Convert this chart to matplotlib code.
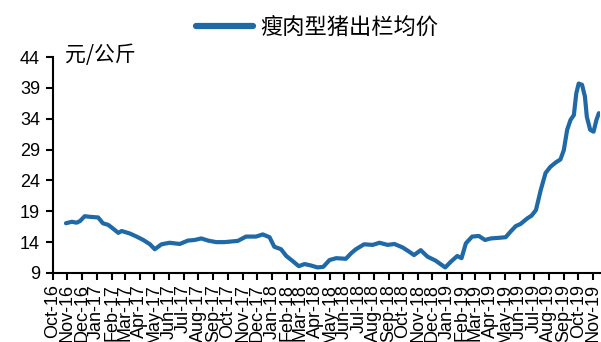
import matplotlib
matplotlib.use("Agg")
import matplotlib.pyplot as plt
import matplotlib.dates as mdates
import pandas as pd

# 瘦肉型猪出栏均价, 元/公斤
dates = [
    "2016-10-29", "2016-11-10", "2016-11-20", "2016-11-27", "2016-12-07", "2016-12-18",
    "2017-01-04", "2017-01-14", "2017-01-25", "2017-02-04", "2017-02-15", "2017-02-22",
    "2017-03-11", "2017-03-25", "2017-04-08", "2017-04-22", "2017-05-02", "2017-05-16",
    "2017-06-02", "2017-06-23", "2017-07-10", "2017-07-24", "2017-08-07", "2017-08-21",
    "2017-09-07", "2017-09-24", "2017-10-22", "2017-11-08", "2017-11-29", "2017-12-13",
    "2017-12-27", "2018-01-06", "2018-01-20", "2018-01-31", "2018-02-13", "2018-02-26",
    "2018-03-10", "2018-03-24", "2018-04-06", "2018-04-18", "2018-05-01", "2018-05-15",
    "2018-06-04", "2018-06-15", "2018-06-25", "2018-07-12", "2018-07-30", "2018-08-13",
    "2018-08-30", "2018-09-13", "2018-09-30", "2018-10-14", "2018-10-24", "2018-11-07",
    "2018-11-21", "2018-12-08", "2018-12-28", "2019-01-09", "2019-01-22", "2019-01-31",
    "2019-02-09", "2019-02-22", "2019-03-08", "2019-03-21", "2019-04-02", "2019-04-19",
    "2019-05-03", "2019-05-13", "2019-05-24", "2019-06-03", "2019-06-17", "2019-06-26",
    "2019-07-05", "2019-07-15", "2019-07-25", "2019-08-04", "2019-08-15", "2019-08-25",
    "2019-09-01", "2019-09-08", "2019-09-15", "2019-09-22", "2019-09-27", "2019-10-02",
    "2019-10-09", "2019-10-15", "2019-10-19", "2019-10-26", "2019-11-02", "2019-11-08",
    "2019-11-13",
]
price = [
    17.06, 17.3, 17.15, 17.4, 18.2, 18.1,
    18.0, 17.05, 16.8, 16.2, 15.5, 15.8,
    15.4, 14.9, 14.35, 13.65, 12.85, 13.65,
    13.9, 13.7, 14.25, 14.35, 14.6, 14.25,
    14.0, 14.0, 14.2, 14.9, 14.9, 15.25,
    14.8, 13.25, 12.85, 11.75, 10.95, 10.1,
    10.45, 10.2, 9.9, 10.0, 11.1, 11.4,
    11.3, 12.2, 12.85, 13.65, 13.55, 13.9,
    13.55, 13.7, 13.15, 12.45, 11.9, 12.7,
    11.65, 11.0, 9.9, 10.85, 11.75, 11.4,
    13.8, 14.9, 15.0, 14.35, 14.6, 14.7,
    14.8, 15.7, 16.6, 16.95, 17.85, 18.3,
    19.2, 22.45, 25.2, 26.2, 26.9, 27.4,
    28.9, 32.2, 33.8, 34.6, 38.1, 39.7,
    39.5, 37.6, 34.3, 32.2, 31.9, 33.8,
    34.9,
]
yticks = [9, 14, 19, 24, 29, 34, 39, 44]
series_name = "瘦肉型猪出栏均价"
unit = "元/公斤"

cjk = ["Noto Sans CJK SC", "DejaVu Sans"]
blue = "#1f69a6"

x = pd.to_datetime(dates)

fig = plt.figure(figsize=(6.01, 3.42), dpi=100)
ax = fig.add_axes([0.0874, 0.2018, 0.9106, 0.6315])

line, = ax.plot(x, price, color=blue, lw=3.0, solid_capstyle="round",
                solid_joinstyle="round", label=series_name)

ax.set_ylim(9, 44)
ax.set_yticks(yticks)
ax.set_xlim(pd.Timestamp("2016-10-01"), pd.Timestamp("2019-11-15"))
ax.xaxis.set_major_locator(mdates.MonthLocator())
ax.xaxis.set_major_formatter(mdates.DateFormatter("%b-%y"))

for s in ["top", "right"]:
    ax.spines[s].set_visible(False)
for s in ["left", "bottom"]:
    ax.spines[s].set_linewidth(1.5)
    ax.spines[s].set_color("black")

ax.tick_params(axis="y", direction="out", length=5, width=1.5, pad=4,
               labelsize=13)
ax.tick_params(axis="x", direction="out", length=5, width=1.5, pad=3,
               labelsize=13, labelrotation=90)
for lab in ax.get_xticklabels() + ax.get_yticklabels():
    lab.set_fontfamily("Liberation Sans")

# unit label sits just right of the y axis, level with the top tick
ax.text(0.022, 1.01, unit, transform=ax.transAxes, family=cjk, fontsize=15,
        ha="left", va="center")

fig.legend(handles=[line], loc="center", bbox_to_anchor=(0.527, 0.921),
           frameon=False, prop={"family": cjk, "size": 16},
           handlelength=2.6, handletextpad=0.3)
for lh in fig.legends[0].get_lines():
    lh.set_linewidth(4.5)

plt.savefig("out.png", dpi=100)
